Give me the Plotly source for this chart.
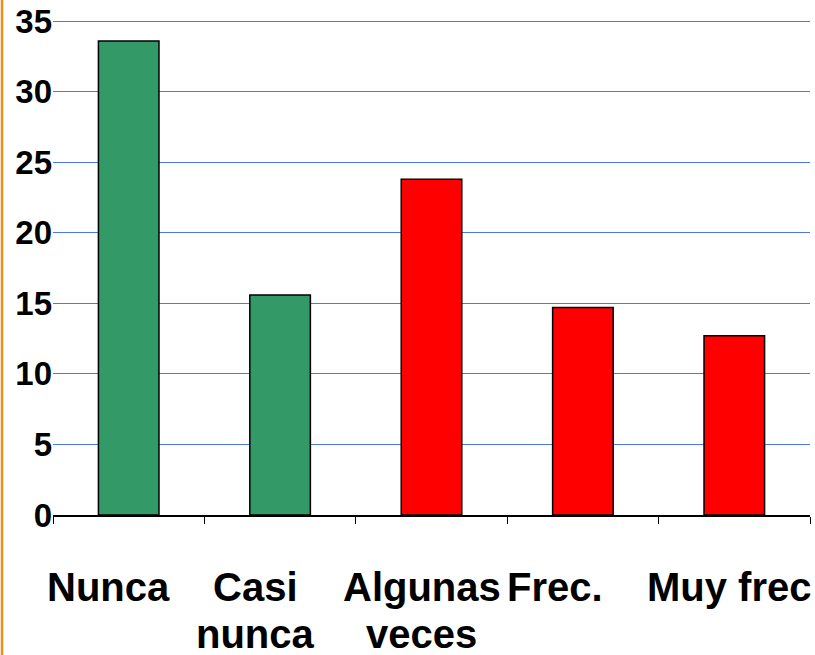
import plotly.graph_objects as go

categories = ["Nunca", "Casi<br>nunca", "Algunas<br>veces", "Frec.", "Muy frec"]
values = [33.6, 15.6, 23.8, 14.7, 12.7]
bar_colors = ["#339966", "#339966", "#ff0000", "#ff0000", "#ff0000"]
y_ticks = [0, 5, 10, 15, 20, 25, 30, 35]
# horizontal nudges (px) of the category labels, as in the original slide
label_nudge = [-20, -25, -10, -28, -5]

W, H = 815, 655
ml, mr, mt, mb = 53, 5, 17, 140
FONT = "Liberation Sans, Arial, sans-serif"

fig = go.Figure()
fig.add_trace(go.Bar(
    x=categories, y=values,
    marker=dict(color=bar_colors, line=dict(color="black", width=1.5)),
    hoverinfo="y",
))

annotations = []
for cat, dx in zip(categories, label_nudge):
    for i, line in enumerate(cat.split("<br>")):
        annotations.append(dict(
            x=cat, y=0, xref="x", yref="paper",
            text=line, showarrow=False,
            xanchor="center", yanchor="middle",
            xshift=dx, yshift=-72 - 47 * i,
            font=dict(size=40, family=FONT, color="black", weight="bold"),
        ))

fig.update_layout(
    width=W, height=H,
    margin=dict(l=ml, r=mr, t=mt, b=mb, pad=0, autoexpand=False),
    paper_bgcolor="white", plot_bgcolor="white",
    bargap=0.6,
    showlegend=False,
    font=dict(family=FONT, color="black"),
    annotations=annotations,
    shapes=[dict(type="line", xref="paper", yref="paper",
                 x0=(2 - ml) / (W - ml - mr), x1=(2 - ml) / (W - ml - mr),
                 y0=-1, y1=2, line=dict(color="#f08c1c", width=2.5))],
)

fig.update_xaxes(
    type="category",
    range=[-0.5, len(categories) - 0.5],
    autorange=False,
    tickson="boundaries",
    ticks="outside", ticklen=7, tickwidth=1.2, tickcolor="black",
    showline=True, linecolor="black", linewidth=1.5,
    showgrid=False,
    showticklabels=False,
    automargin=False,
)
fig.update_yaxes(
    range=[0, 35.3],
    tickvals=y_ticks,
    ticks="", showline=False,
    showgrid=True, gridcolor="#4a78f0", gridwidth=1.3,
    zeroline=False,
    automargin=False,
    tickfont=dict(size=33, family=FONT, color="black", weight="bold"),
    ticklabelstandoff=0,
)

fig.write_html(
    "out.html",
    config={"displayModeBar": False},
    post_script="document.body.style.margin='0';document.body.style.overflow='hidden';",
)
